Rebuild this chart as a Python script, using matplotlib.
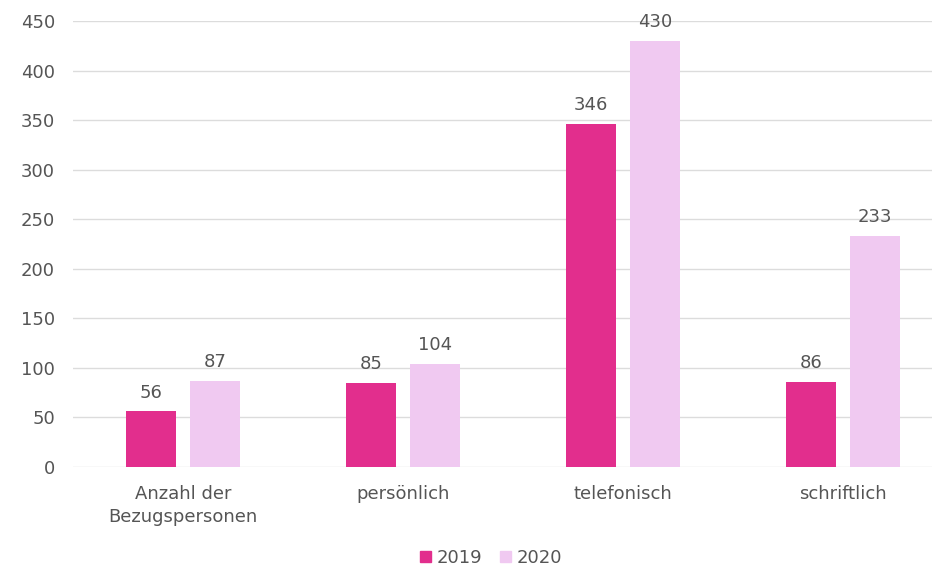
import numpy as np
import matplotlib.pyplot as plt
from matplotlib.patches import Patch

categories = ['Anzahl der\nBezugspersonen', 'persönlich', 'telefonisch', 'schriftlich']
values_2019 = [56, 85, 346, 86]
values_2020 = [87, 104, 430, 233]
y_ticks = [0, 50, 100, 150, 200, 250, 300, 350, 400, 450]

c2019 = '#E22E8D'
c2020 = '#F0C9F1'
text_col = '#555555'
fs = 13

fig = plt.figure(figsize=(9.32, 5.69), dpi=100)
ax = fig.add_axes([0.0783, 0.1793, 0.9217, 0.7838])

x = np.arange(len(categories))
w = 0.227
off = 0.145
b1 = ax.bar(x - off, values_2019, w, color=c2019, zorder=3)
b2 = ax.bar(x + off, values_2020, w, color=c2020, zorder=3)

for bars, vals in ((b1, values_2019), (b2, values_2020)):
    for rect, v in zip(bars, vals):
        ax.text(rect.get_x() + rect.get_width() / 2, v + 10, str(v),
                ha='center', va='bottom', fontsize=fs, color=text_col)

ax.set_ylim(0, 450)
ax.set_xlim(-0.5, 3.4045)
ax.set_yticks(y_ticks)
ax.set_xticks(x)
ax.set_xticklabels(categories, fontsize=fs, color=text_col, linespacing=1.35)
ax.tick_params(axis='y', labelsize=fs, labelcolor=text_col, length=0, pad=13)
ax.tick_params(axis='x', length=0, pad=13)
ax.yaxis.grid(True, color='#dcdcdc', linewidth=1, zorder=0)
for s in ax.spines.values():
    s.set_visible(False)

handles = [Patch(color=c2019, label='2019'), Patch(color=c2020, label='2020')]
fig.legend(handles=handles, loc='center', bbox_to_anchor=(0.527, 0.02), ncol=2,
           frameon=False, fontsize=fs, labelcolor=text_col,
           handlelength=0.6, handleheight=0.6, handletextpad=0.3, columnspacing=1.0)

fig.savefig('out.png', dpi=100)
